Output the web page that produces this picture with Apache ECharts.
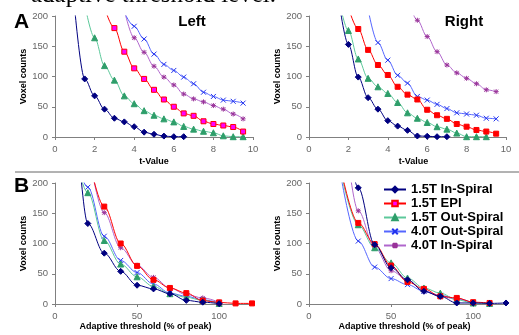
<!DOCTYPE html>
<html>
<head>
<meta charset="utf-8">
<script src="https://cdn.jsdelivr.net/npm/echarts@6/dist/echarts.min.js"></script>
<style>
  html, body { margin: 0; padding: 0; background: #fff; }
  #chart { width: 519px; height: 335px; }
</style>
</head>
<body>
<div id="chart"></div>
<script>
// series names (legend order)
const seriesNames = ['1.5T In-Spiral', '1.5T EPI', '1.5T Out-Spiral', '4.0T Out-Spiral', '4.0T In-Spiral']

// panel A: x = t-value
const tValues = [1, 1.5, 2, 2.5, 3, 3.5, 4, 4.5, 5, 5.5, 6, 6.5, 7, 7.5, 8, 8.5, 9, 9.5]
const leftIn15 = [210, 96, 68, 46, 31, 25, 17, 8, 4.5, 1.5, 0.5, 0.5, null, null, null, null, null, null]
const leftEpi15 = [null, null, null, 214, 180, 141, 113.5, 96, 78, 62, 50, 39, 35, 26, 21.5, 19, 16.5, 9]
const leftOut15 = [null, 220, 164, 118, 94, 68, 55, 43.5, 36, 30, 25, 17.5, 13, 9.5, 7, 2, 0.5, 0.5]
const leftOut40 = [null, null, null, null, null, 206, 183, 162, 137, 120, 110, 99, 88, 74, 67, 61, 59, 56]
const leftIn40 = [null, null, null, null, null, 210, 164, 140, 117, 99, 86, 71, 63, 58, 52, 46, 38, 30]

const rightIn15 = [null, 229, 153, 99, 65, 46, 27, 18, 11, 1.7, 1.2, 0.5, 0.5, null, null, null, null, null]
const rightEpi15 = [null, null, 214, 178.5, 144, 119, 102.5, 83, 70, 62, 45, 36, 30, 21.5, 17, 11.6, 9, 5.5]
const rightOut15 = [null, 230, 176, 129, 97, 83, 72, 57, 40, 31, 24, 17, 13, 6.5, 0.5, 0.5, 0.5, null]
const rightOut40 = [null, null, null, null, 211, 156, 127, 102, 89, 67, 61, 54, 47, 40, 38, 36, 31, 30]
const rightIn40 = [null, null, null, null, null, null, null, null, 232, 193, 166, 141, 119, 106, 97, 88, 78, 75]

// panel B: x = adaptive threshold (% of peak)
const thresholds = [10, 20, 30, 40, 50, 60, 70, 80, 90, 100, 110, 120]
const adLeftIn15 = [426, 133, 84, 54, 31, 25, 17, 6, 3, 0.5, null, null]
const adLeftEpi15 = [null, 248, 161, 100, 63, 40, 26.5, 18, 5.5, 2.7, 1, 1]
const adLeftOut15 = [276, 184, 105, 66, 45, 29, 17, 11, 6, 1, null, null]
const adLeftOut40 = [272, 193, 112, 72, 52, 33, 18, 12.7, 7, 1.7, null, null]
const adLeftIn40 = [null, 256, 151, 93, 64, 44, 26.5, 15.5, 10, 3, null, null]

const adRightIn15 = [null, 352, 192, 98, 60, 40, 21, 12.7, 1.7, 1.7, 1, 1.7]
const adRightEpi15 = [null, 216, 134, 99, 63.5, 36.5, 25, 12.7, 10, 3, 1.7, null]
const adRightOut15 = [null, 210, 131, 93, 68, 43, 26.5, 18, 7, 1.7, 1, null]
const adRightOut40 = [null, 203, 104, 61, 42, 32, 21, 14.4, 9, 1.7, null, null]
const adRightIn40 = [null, 332, 154, 93, 55, 40, 21, 12.7, 8, 1.7, null, null]

const font = 'Liberation Sans, Arial, sans-serif'

const styles = [
  { symbol: 'diamond', size: 6, line: '#000080', fill: '#000080', border: '#000080' },
  { symbol: 'rect', size: 5, line: '#ff0000', fill: '#ff0000', border: '#ff0000' },
  { symbol: 'triangle', size: 6, line: '#5cc89a', fill: '#2e9e6a', border: '#2e9e6a' },
  { symbol: 'path://M0,0L10,10M10,0L0,10', size: 5, line: '#5566ff', fill: '#2233ee', border: '#2233ee' },
  { symbol: 'path://M5,0L5,10M0,5L10,5M1,1L9,9M9,1L1,9', size: 5, line: '#b066cc', fill: '#993399', border: '#993399' },
]

const pairs = (xs, ys) => xs.map((x, i) => [x, ys[i]]).filter((p) => p[1] !== null)

const makeSeries = (panel, xs, list, epiFill) =>
  list.map((ys, k) => {
    const s = styles[k]
    const fill = k === 1 && epiFill ? epiFill : s.fill
    return {
      name: seriesNames[k],
      type: 'line',
      xAxisIndex: panel,
      yAxisIndex: panel,
      data: pairs(xs, ys),
      smooth: 0.35,
      smoothMonotone: 'x',
      clip: true,
      symbol: s.symbol,
      symbolSize: s.size,
      showAllSymbol: true,
      lineStyle: { color: s.line, width: 1 },
      itemStyle: { color: fill, borderColor: s.border, borderWidth: 1 },
      emphasis: { disabled: true },
      z: 10 - k,
    }
  })

const yAxis = (panel, gap) => ({
  type: 'value',
  gridIndex: panel,
  min: 0,
  max: 200,
  interval: 50,
  name: 'Voxel counts',
  nameLocation: 'middle',
  nameGap: gap,
  nameTextStyle: { fontFamily: font, fontWeight: 'bold', fontSize: 9, color: '#000' },
  axisLine: { show: true, lineStyle: { color: '#808080' } },
  axisTick: { show: true, length: 3, lineStyle: { color: '#808080' } },
  axisLabel: { color: '#666', fontFamily: font, fontSize: 9.5, margin: 7 },
  splitLine: { show: false },
})

const xAxis = (panel, max, interval, name, gap, shift) => ({
  type: 'value',
  gridIndex: panel,
  min: 0,
  max: max,
  interval: interval,
  name: name,
  nameLocation: 'middle',
  nameGap: gap,
  nameTextStyle: { fontFamily: font, fontWeight: 'bold', fontSize: 9, color: '#000', padding: [0, 0, 0, shift * 2] },
  axisLine: { lineStyle: { color: '#808080' } },
  axisTick: { show: true, length: 3, lineStyle: { color: '#808080' } },
  axisLabel: { color: '#666', fontFamily: font, fontSize: 9.5, margin: 7, showMaxLabel: max === 10 },
  splitLine: { show: false },
})

const chart = echarts.init(document.getElementById('chart'))
chart.setOption({
  animation: false,
  grid: [
    { left: 55, top: 16, width: 198, height: 121 },
    { left: 309, top: 16, width: 197, height: 121 },
    { left: 55, top: 183, width: 197, height: 121 },
    { left: 309, top: 183, width: 197, height: 121 },
  ],
  xAxis: [
    xAxis(0, 10, 2, 't-Value', 20, 0),
    xAxis(1, 10, 2, 't-Value', 20, 6),
    xAxis(2, 120, 50, 'Adaptive threshold (% of peak)', 18, -8),
    xAxis(3, 120, 50, 'Adaptive threshold (% of peak)', 18, -3),
  ],
  yAxis: [yAxis(0, 26), yAxis(1, 27), yAxis(2, 26), yAxis(3, 27)],
  legend: {
    orient: 'vertical',
    left: 383,
    top: 183,
    padding: 0,
    itemWidth: 22,
    itemHeight: 7,
    itemGap: 1,
    data: seriesNames,
    textStyle: { fontFamily: font, fontWeight: 'bold', fontSize: 13, color: '#000' },
  },
  graphic: [
    { type: 'text', style: { text: 'adaptive threshold level.', x: 276, y: 8, align: 'right', verticalAlign: 'bottom', font: '25px "Liberation Serif", serif', fill: '#000' } },
    { type: 'line', shape: { x1: 15, y1: 172, x2: 519, y2: 172 }, style: { stroke: '#666', lineWidth: 1 } },
    { type: 'text', style: { text: 'A', x: 14, y: 12, font: 'bold 21px "Liberation Sans", Arial', fill: '#000' } },
    { type: 'text', style: { text: 'B', x: 14, y: 176, font: 'bold 21px "Liberation Sans", Arial', fill: '#000' } },
    { type: 'text', style: { text: 'Left', x: 192, y: 22, align: 'center', verticalAlign: 'middle', font: 'bold 15px "Liberation Sans", Arial', fill: '#000' } },
    { type: 'text', style: { text: 'Right', x: 464, y: 22, align: 'center', verticalAlign: 'middle', font: 'bold 15px "Liberation Sans", Arial', fill: '#000' } },
  ],
  series: [
    ...makeSeries(0, tValues, [leftIn15, leftEpi15, leftOut15, leftOut40, leftIn40], '#ff00ff'),
    ...makeSeries(1, tValues, [rightIn15, rightEpi15, rightOut15, rightOut40, rightIn40]),
    ...makeSeries(2, thresholds, [adLeftIn15, adLeftEpi15, adLeftOut15, adLeftOut40, adLeftIn40]),
    ...makeSeries(3, thresholds, [adRightIn15, adRightEpi15, adRightOut15, adRightOut40, adRightIn40]),
  ],
})
</script>
</body>
</html>
